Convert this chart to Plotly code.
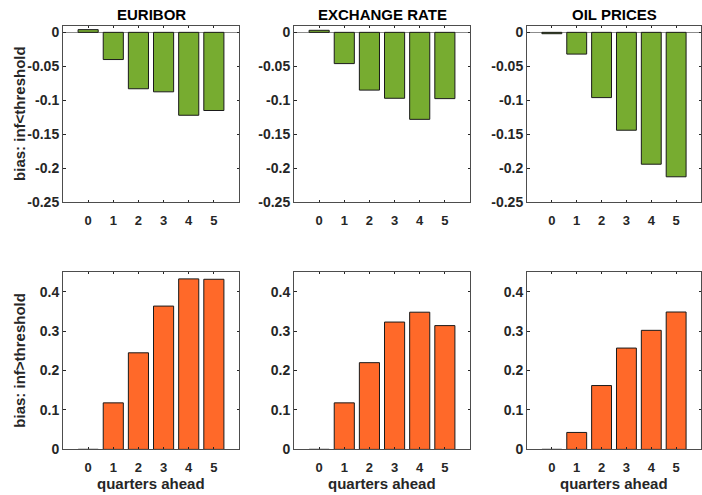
import plotly.graph_objects as go

# forecast horizons (quarters ahead)
horizons = [0, 1, 2, 3, 4, 5]

# bias when inflation is below the threshold
euribor_below = [0.004, -0.040, -0.083, -0.0875, -0.122, -0.115]
exchange_below = [0.003, -0.046, -0.085, -0.097, -0.128, -0.0975]
oil_below = [-0.002, -0.032, -0.096, -0.144, -0.194, -0.2125]

# bias when inflation is above the threshold
euribor_above = [0.0, 0.118, 0.245, 0.3635, 0.4325, 0.4315]
exchange_above = [0.0, 0.118, 0.220, 0.323, 0.348, 0.314]
oil_above = [0.0, 0.043, 0.162, 0.257, 0.302, 0.3485]

titles = ["EURIBOR", "EXCHANGE RATE", "OIL PRICES"]
top_rows = [euribor_below, exchange_below, oil_below]
bottom_rows = [euribor_above, exchange_above, oil_above]

top_ticks = [-0.25, -0.2, -0.15, -0.1, -0.05, 0]
top_labels = ["-0.25", "-0.2", "-0.15", "-0.1", "-0.05", "0"]
bottom_ticks = [0, 0.1, 0.2, 0.3, 0.4]
bottom_labels = ["0", "0.1", "0.2", "0.3", "0.4"]

GREEN = "#77AC30"
ORANGE = "#FF6929"
INK = "#262626"
FONT = "Liberation Sans, Arial, sans-serif"

W, H = 702, 495
col_px = [(63, 239), (294, 470), (527, 701)]
top_px = (25, 205)
bot_px = (276, 456.7)


def xdom(px):
    return [px[0] / W, px[1] / W]


def ydom(px):
    return [(H - px[1]) / H, (H - px[0]) / H]


fig = go.Figure()
layout = {}
annotations = []

for i in range(3):
    for r, (vals, color, pxr) in enumerate(
        [(top_rows[i], GREEN, top_px), (bottom_rows[i], ORANGE, bot_px)]
    ):
        n = r * 3 + i + 1
        xa = "x" if n == 1 else f"x{n}"
        ya = "y" if n == 1 else f"y{n}"
        fig.add_trace(
            go.Bar(
                x=horizons,
                y=vals,
                xaxis=xa,
                yaxis=ya,
                width=0.8,
                marker=dict(color=color, line=dict(color="#1a1a1a", width=1)),
                showlegend=False,
                hoverinfo="x+y",
            )
        )
        axis_common = dict(
            showline=True,
            linecolor="#4d4d4d",
            linewidth=1,
            mirror="allticks",
            ticks="inside",
            ticklen=2.5,
            tickwidth=1,
            tickcolor=INK,
            showgrid=False,
            tickfont=dict(family=FONT, size=14, color=INK, weight="bold"),
        )
        layout["xaxis" if n == 1 else f"xaxis{n}"] = dict(
            axis_common,
            domain=xdom(col_px[i]),
            anchor=ya,
            range=[-1, 6],
            tickvals=horizons,
            zeroline=False,
            fixedrange=True,
            ticklabelstandoff=6,
            tickfont=dict(family=FONT, size=13, color=INK, weight="bold"),
        )
        if r == 0:
            yextra = dict(
                range=[-0.25, 0.01],
                tickvals=top_ticks,
                ticktext=top_labels,
                zeroline=True,
                zerolinecolor="#8c8c8c",
                zerolinewidth=1,
            )
        else:
            yextra = dict(
                range=[0, 0.45],
                tickvals=bottom_ticks,
                ticktext=bottom_labels,
                zeroline=False,
            )
        layout["yaxis" if n == 1 else f"yaxis{n}"] = dict(
            axis_common,
            domain=ydom(pxr),
            anchor=xa,
            fixedrange=True,
            **yextra,
        )
    # panel title
    annotations.append(
        dict(
            text=titles[i],
            x=(col_px[i][0] + col_px[i][1]) / 2 / W,
            y=(H - 13.5) / H,
            xref="paper",
            yref="paper",
            showarrow=False,
            xanchor="center",
            yanchor="middle",
            font=dict(family=FONT, size=15, color="#000000", weight="bold"),
        )
    )
    # x-axis title under the bottom row
    annotations.append(
        dict(
            text="quarters ahead",
            x=(col_px[i][0] + col_px[i][1]) / 2 / W,
            y=(H - 491) / H,
            xref="paper",
            yref="paper",
            showarrow=False,
            xanchor="center",
            yanchor="middle",
            borderpad=0,
            font=dict(family=FONT, size=15, color=INK, weight="bold"),
        )
    )

for label, pxr in [("bias: inf<threshold", top_px), ("bias: inf>threshold", bot_px)]:
    annotations.append(
        dict(
            text=label,
            x=20 / W,
            y=(H - (pxr[0] + pxr[1]) / 2) / H,
            xref="paper",
            yref="paper",
            showarrow=False,
            textangle=-90,
            xanchor="center",
            yanchor="middle",
            font=dict(family=FONT, size=15, color=INK, weight="bold"),
        )
    )

fig.update_layout(
    **layout,
    annotations=annotations,
    width=W,
    height=H,
    margin=dict(l=0, r=0, t=0, b=0),
    paper_bgcolor="white",
    plot_bgcolor="white",
    bargap=0.2,
)

fig.write_html("out.html", config={"displayModeBar": False})
